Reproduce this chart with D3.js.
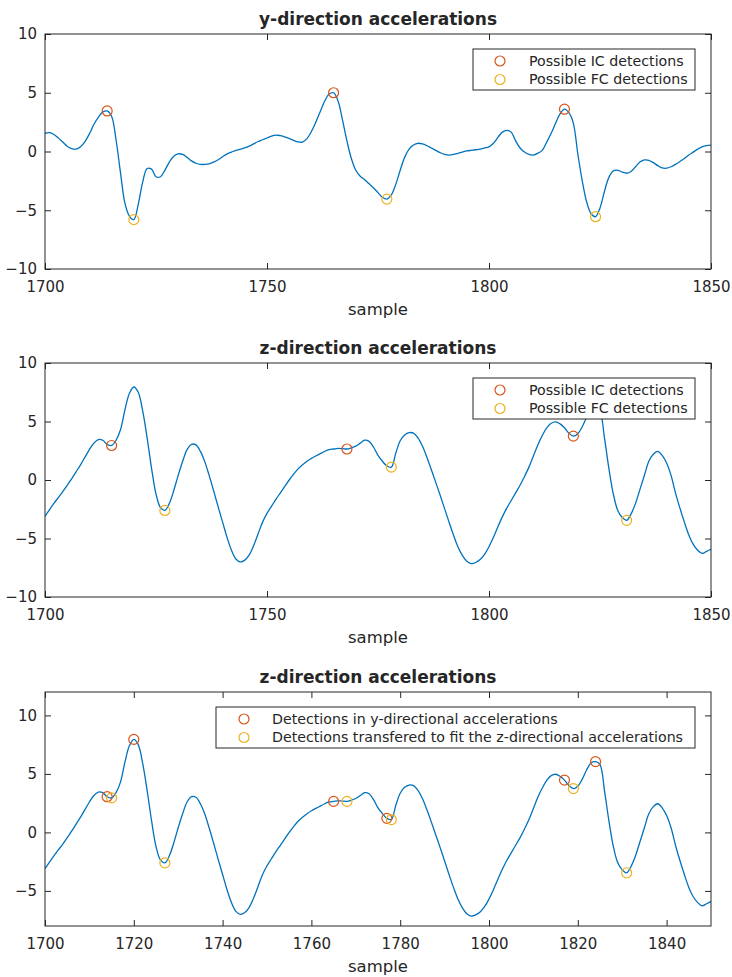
<!DOCTYPE html>
<html>
<head>
<meta charset="utf-8">
<script src="https://cdn.jsdelivr.net/npm/d3@7"></script>
<style>
  html, body { margin: 0; padding: 0; background: #ffffff; }
  svg { display: block; }
  text { font-family: "DejaVu Sans", sans-serif; fill: #262626; }
</style>
</head>
<body>
<svg id="fig" width="732" height="977"></svg>
<script>
// Sample index of the first value in each series
const firstSample = 1700;

// y-direction accelerations, one value per sample (1700..1850)
const yAccel = [
  1.55, 1.6, 1.45, 1.15, 0.8, 0.45, 0.25, 0.2, 0.4, 0.85,
  1.5, 2.3, 2.9, 3.35, 3.45, 3.0, 1.0, -1.8, -4.4, -5.5,
  -5.8, -4.5, -2.6, -1.45, -1.5, -2.15, -2.15, -1.6, -0.9, -0.4,
  -0.2, -0.25, -0.5, -0.8, -1.0, -1.1, -1.1, -1.05, -0.9, -0.7,
  -0.45, -0.2, -0.05, 0.1, 0.2, 0.3, 0.45, 0.65, 0.85, 1.0,
  1.15, 1.3, 1.4, 1.35, 1.25, 1.1, 0.95, 0.82, 0.8, 1.1,
  1.7, 2.5, 3.4, 4.3, 4.9, 5.0, 4.3, 2.7, 0.9, -0.6,
  -1.6, -2.1, -2.4, -2.75, -3.1, -3.5, -3.9, -4.05, -3.7, -2.8,
  -1.6, -0.5, 0.2, 0.55, 0.7, 0.65, 0.5, 0.3, 0.1, -0.1,
  -0.25, -0.3, -0.25, -0.15, -0.05, 0.05, 0.1, 0.15, 0.2, 0.3,
  0.4, 0.7, 1.2, 1.65, 1.8, 1.65, 0.9, 0.3, -0.05, -0.25,
  -0.3, -0.15, 0.1, 0.8, 1.55, 2.4, 3.2, 3.6, 3.3, 2.4,
  -0.2, -2.5, -4.3, -5.3, -5.55, -4.8, -3.4, -2.2, -1.65, -1.6,
  -1.75, -1.85, -1.7, -1.3, -0.9, -0.72, -0.75, -0.95, -1.2, -1.4,
  -1.42, -1.3, -1.1, -0.85, -0.6, -0.3, -0.05, 0.2, 0.4, 0.5,
  0.55
];

// z-direction accelerations, one value per sample (1700..1850)
const zAccel = [
  -3.1, -2.55, -2.0, -1.5, -1.0, -0.45, 0.1, 0.7, 1.3, 1.95,
  2.6, 3.15, 3.45, 3.4, 3.05, 2.95, 3.4, 4.3, 6.0, 7.4,
  7.95, 7.5, 5.9, 3.6, 1.0, -1.2, -2.35, -2.6, -2.0, -0.9,
  0.4, 1.6, 2.6, 3.05, 3.0, 2.45, 1.55, 0.35, -0.95, -2.3,
  -3.6, -4.9, -6.0, -6.75, -7.0, -6.85, -6.4, -5.6, -4.6, -3.6,
  -2.85, -2.25, -1.65, -1.1, -0.55, 0.0, 0.5, 0.95, 1.3, 1.6,
  1.85, 2.05, 2.25, 2.45, 2.6, 2.65, 2.7, 2.68, 2.65, 2.75,
  2.9, 3.15, 3.4, 3.3, 2.8, 2.1, 1.6, 1.2, 1.1, 2.3,
  3.35, 3.85, 4.05, 4.0, 3.6, 2.9, 1.95, 0.9, -0.2, -1.3,
  -2.45, -3.6, -4.7, -5.7, -6.45, -6.95, -7.15, -7.05, -6.8, -6.35,
  -5.7, -4.9, -4.0, -3.15, -2.4, -1.75, -1.1, -0.45, 0.3, 1.1,
  2.05, 3.0, 3.8, 4.45, 4.85, 4.97, 4.8, 4.47, 4.0, 3.75,
  3.95, 4.55, 5.35, 5.95, 6.05, 5.8, 3.6, 1.0, -1.2, -2.6,
  -3.2, -3.45, -2.9, -2.0, -0.8, 0.4, 1.6, 2.2, 2.45, 2.1,
  1.45, 0.4, -1.1, -2.4, -3.6, -4.7, -5.5, -6.0, -6.28, -6.1,
  -5.9
];

// Detected events (sample numbers)
const icSamplesY = [1714, 1765, 1817];
const fcSamplesY = [1720, 1777, 1824];
const icSamplesZ = [1715, 1768, 1819];
const fcSamplesZ = [1727, 1778, 1831];
const ySamplesAll = [1714, 1720, 1765, 1777, 1817, 1824];
const transferredSamples = [1715, 1727, 1768, 1778, 1819, 1831];

// Axis ticks
const xTicksWide = [1700, 1750, 1800, 1850];
const yTicksWide = [-10, -5, 0, 5, 10];
const xTicksFine = [1700, 1720, 1740, 1760, 1780, 1800, 1820, 1840];
const yTicksFine = [-5, 0, 5, 10];

// Legend labels
const legendIcFc = ["Possible IC detections", "Possible FC detections"];
const legendTransfer = ["Detections in y-directional accelerations",
                        "Detections transfered to fit the z-directional accelerations"];

const C_LINE = "#0072BD", C_RED = "#D95319", C_YEL = "#EDB120", C_AX = "#262626";

const svg = d3.select("#fig");
const x = d3.scaleLinear().domain([1700, 1850]).range([45, 711]);
const fmt = d3.format("d");

function pointsOf(series) {
  return series.map((v, i) => ({ s: firstSample + i, v }));
}
function valueAt(series, s) { return series[s - firstSample]; }

function panel(opt) {
  const g = svg.append("g");
  const y = d3.scaleLinear().domain(opt.yDomain).range([opt.bottom, opt.top]);
  const id = "clip" + opt.top;

  g.append("clipPath").attr("id", id).append("rect")
    .attr("x", 45).attr("y", opt.top).attr("width", 666).attr("height", opt.bottom - opt.top);

  const tick = 6;
  // bottom axis with labels
  g.append("g").attr("transform", `translate(0,${opt.bottom})`)
    .call(d3.axisBottom(x).tickValues(opt.xTicks).tickFormat(fmt)
      .tickSizeInner(-tick).tickSizeOuter(0).tickPadding(12))
    .call(a => a.select(".domain").remove());
  // top axis, marks only
  g.append("g").attr("transform", `translate(0,${opt.top})`)
    .call(d3.axisTop(x).tickValues(opt.xTicks).tickSizeInner(-tick).tickSizeOuter(0).tickFormat(""))
    .call(a => a.select(".domain").remove());
  // left axis with labels
  g.append("g").attr("transform", `translate(45,0)`)
    .call(d3.axisLeft(y).tickValues(opt.yTicks).tickFormat(fmt)
      .tickSizeInner(-tick).tickSizeOuter(0).tickPadding(8))
    .call(a => a.select(".domain").remove());
  // right axis, marks only
  g.append("g").attr("transform", `translate(711,0)`)
    .call(d3.axisRight(y).tickValues(opt.yTicks).tickSizeInner(-tick).tickSizeOuter(0).tickFormat(""))
    .call(a => a.select(".domain").remove());

  g.selectAll(".tick line").attr("stroke", C_AX).attr("stroke-width", 1);
  g.selectAll(".tick text").attr("font-size", 15).attr("fill", C_AX)
    .attr("font-family", "DejaVu Sans");

  // signal
  const line = d3.line().x(d => x(d.s)).y(d => y(d.v)).curve(d3.curveCatmullRom.alpha(0.5));
  g.append("path").datum(pointsOf(opt.series))
    .attr("clip-path", `url(#${id})`)
    .attr("d", line).attr("fill", "none").attr("stroke", C_LINE).attr("stroke-width", 1.3);

  // detection markers
  opt.markers.forEach(m => {
    g.append("g").selectAll("circle").data(m.samples).join("circle")
      .attr("cx", s => x(s)).attr("cy", s => y(valueAt(opt.series, s)))
      .attr("r", 5).attr("fill", "none").attr("stroke", m.color).attr("stroke-width", 1.2);
  });

  // axes box
  g.append("rect").attr("x", 45).attr("y", opt.top).attr("width", 666)
    .attr("height", opt.bottom - opt.top).attr("fill", "none")
    .attr("stroke", C_AX).attr("stroke-width", 1);

  // legend
  const L = opt.legend;
  const lg = g.append("g");
  lg.append("rect").attr("x", L.x0).attr("y", opt.top + 15).attr("width", 695 - L.x0)
    .attr("height", 41).attr("fill", "#ffffff").attr("stroke", C_AX).attr("stroke-width", 1);
  L.labels.forEach((t, i) => {
    const cy = opt.top + 27 + i * 18.5;
    lg.append("circle").attr("cx", L.mx).attr("cy", cy).attr("r", 5)
      .attr("fill", "none").attr("stroke", opt.markers[i].color).attr("stroke-width", 1.2);
    lg.append("text").attr("x", L.tx).attr("y", cy).attr("dy", "0.35em")
      .attr("font-size", 14.2).text(t);
  });

  // title and x label
  g.append("text").attr("x", 378).attr("y", opt.top - 9.5).attr("text-anchor", "middle")
    .attr("font-weight", "bold").attr("font-size", 17).attr("fill", "#000").text(opt.title);
  g.append("text").attr("x", 378).attr("y", opt.bottom + 46).attr("text-anchor", "middle")
    .attr("font-size", 16.5).text("sample");
}

panel({
  top: 34, bottom: 269, yDomain: [-10, 10], xTicks: xTicksWide, yTicks: yTicksWide,
  title: "y-direction accelerations", series: yAccel,
  markers: [{ samples: icSamplesY, color: C_RED }, { samples: fcSamplesY, color: C_YEL }],
  legend: { x0: 473, mx: 500, tx: 529, labels: legendIcFc }
});

panel({
  top: 363, bottom: 597, yDomain: [-10, 10], xTicks: xTicksWide, yTicks: yTicksWide,
  title: "z-direction accelerations", series: zAccel,
  markers: [{ samples: icSamplesZ, color: C_RED }, { samples: fcSamplesZ, color: C_YEL }],
  legend: { x0: 473, mx: 500, tx: 529, labels: legendIcFc }
});

panel({
  top: 692, bottom: 926, yDomain: [-8, 12], xTicks: xTicksFine, yTicks: yTicksFine,
  title: "z-direction accelerations", series: zAccel,
  markers: [{ samples: ySamplesAll, color: C_RED }, { samples: transferredSamples, color: C_YEL }],
  legend: { x0: 216, mx: 244, tx: 272, labels: legendTransfer }
});
</script>
</body>
</html>
